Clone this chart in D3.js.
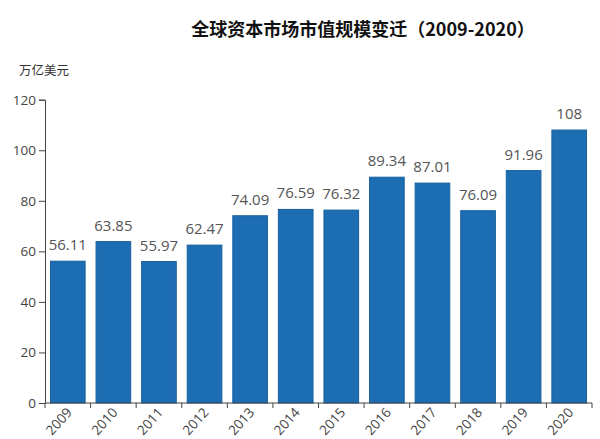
<!DOCTYPE html>
<html><head><meta charset="utf-8">
<script src="https://cdn.jsdelivr.net/npm/d3@7/dist/d3.min.js"></script>
<style>body{margin:0;background:#fff}svg{display:block}</style>
</head><body>
<svg id="c" width="600" height="439"></svg>
<script>
const years = ["2009","2010","2011","2012","2013","2014","2015","2016","2017","2018","2019","2020"];
const values = [56.11,63.85,55.97,62.47,74.09,76.59,76.32,89.34,87.01,76.09,91.96,108];
const labels = ["56.11","63.85","55.97","62.47","74.09","76.59","76.32","89.34","87.01","76.09","91.96","108"];
const yTicks = [0,20,40,60,80,100,120];
const title = "全球资本市场市值规模变迁（2009-2020）";
const unit = "万亿美元";

const svg = d3.select("#c");
const x = d3.scaleBand().domain(years).range([45, 592]).paddingInner(0.24).paddingOuter(0.12);
const y = d3.scaleLinear().domain([0, 120]).range([403, 99.7]);

svg.append("text").attr("x", 363).attr("y", 36).attr("text-anchor", "middle")
  .attr("font-family", "'Noto Sans CJK SC'").attr("font-weight", "bold").attr("font-size", 18)
  .attr("fill", "#111").text(title);
svg.append("text").attr("x", 19).attr("y", 75)
  .attr("font-family", "'Noto Sans CJK SC'").attr("font-size", 12.5)
  .attr("fill", "#333").text(unit);

// bars
svg.selectAll("rect.bar").data(values).enter().append("rect")
  .attr("class", "bar")
  .attr("x", (d, i) => x(years[i]))
  .attr("y", d => y(d))
  .attr("width", x.bandwidth())
  .attr("height", d => y(0) - y(d))
  .attr("fill", "#1d6db2").attr("stroke", "#17609f").attr("stroke-width", 1);

// value labels
svg.selectAll("text.val").data(values).enter().append("text")
  .attr("class", "val")
  .attr("x", (d, i) => x(years[i]) + x.bandwidth() / 2)
  .attr("y", d => y(d) - 11)
  .attr("text-anchor", "middle")
  .attr("font-family", "'Open Sans'").attr("font-size", 15)
  .attr("fill", "#555").text((d, i) => labels[i]);

// y axis
const ya = svg.append("g").attr("transform", "translate(45,0)")
  .call(d3.axisLeft(y).tickValues(yTicks).tickSize(6).tickPadding(3));
ya.select(".domain").attr("stroke", "#444");
ya.selectAll(".tick line").attr("stroke", "#444");
ya.selectAll("text").attr("font-family", "'Open Sans'").attr("font-size", 13.5).attr("fill", "#444");

// x axis
const xa = svg.append("g").attr("transform", `translate(0,${y(0)})`)
  .call(d3.axisBottom(x).tickSize(0).tickPadding(0));
xa.select(".domain").attr("stroke", "#444").attr("d", `M45,0H592`);
xa.selectAll("text").attr("font-family", "'Open Sans'").attr("font-size", 13.5).attr("fill", "#444")
  .attr("text-anchor", "end").attr("x", 0).attr("y", 0).attr("dx", 0).attr("dy", 0)
  .attr("transform", "translate(5,10) rotate(-48)");
const step = x.step();
const bounds = d3.range(years.length + 1).map(i => 45 + i * step);
xa.selectAll("line.bt").data(bounds).enter().append("line")
  .attr("class", "bt").attr("x1", d => d).attr("x2", d => d)
  .attr("y1", 0).attr("y2", 5).attr("stroke", "#444");
</script>
</body></html>
